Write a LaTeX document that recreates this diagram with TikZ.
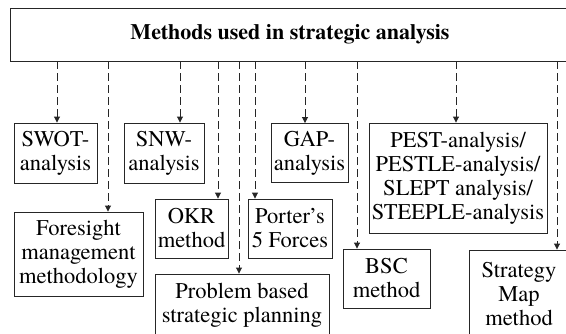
\documentclass[tikz,border=0pt]{standalone}
\usepackage{fontspec}
\setmainfont{TeX Gyre Termes}
\usepackage{tikz}
\usetikzlibrary{arrows.meta}
\tikzstyle{heading} = [rectangle, minimum width=560pt, minimum height=53pt, text centered, draw=black!85, line width=0.9pt, font=\fontsize{22}{24}\selectfont\bfseries]
\tikzstyle{method} = [rectangle, align=center, inner sep=0pt, draw=black!85, line width=0.9pt, fill=white]
\tikzstyle{arrow} = [line width=0.9pt, draw=black!85, dash pattern=on 8pt off 4pt, -{Triangle[length=6pt,width=6pt]}]

\begin{document}
\begin{tikzpicture}[x=1pt, y=-1pt]
\useasboundingbox (0,0) rectangle (566,333);
\clip (0,0) rectangle (566,333);
\fontsize{22.5}{24}\selectfont

\node (top) [heading] at (290,34.5) {Methods used in strategic analysis};

% first row
\node (swot) [method, minimum width=83pt, minimum height=60pt] at (55.5,153) {SWOT-\\analysis};
\node (snw) [method, minimum width=80pt, minimum height=60pt] at (164,153) {SNW-\\analysis};
\node (gap) [method, minimum width=77pt, minimum height=59pt] at (309.5,153) {GAP-\\analysis};
\node (pest) [method, minimum width=178pt, minimum height=110pt] at (458,178) {PEST-analysis/\\PESTLE-analysis/\\SLEPT analysis/\\STEEPLE-analysis};

% lower boxes
\node (fore) [method, minimum width=129pt, minimum height=84pt] at (78.5,254) {Foresight\\management\\methodology};
\node (okr) [method, minimum width=73pt, minimum height=59pt] at (191.5,228.5) {OKR\\method};
\node (porter) [method, minimum width=84pt, minimum height=59pt] at (290,228.5) {Porter’s\\5 Forces};
\node (prob) [method, minimum width=174pt, minimum height=62pt] at (242,305) {Problem based\\strategic planning};
\node (bsc) [method, minimum width=87pt, minimum height=59pt] at (386.5,278.5) {BSC\\method};
\node (smap) [method, minimum width=100pt, minimum height=88pt] at (519,294) {Strategy\\Map\\method};

% arrow ends
\coordinate (swotin) at ([xshift=1.5pt]swot.north);
\coordinate (forein) at ([xshift=29.5pt]fore.north);
\coordinate (snwin) at ([xshift=16pt]snw.north);
\coordinate (okrin) at ([xshift=26.5pt]okr.north);
\coordinate (probin) at ([xshift=-3pt]prob.north);
\coordinate (porterin) at ([xshift=-35pt]porter.north);
\coordinate (gapin) at ([xshift=-4.5pt]gap.north);
\coordinate (bscin) at ([xshift=-29.5pt]bsc.north);
\coordinate (pestin) at ([xshift=-2pt]pest.north);
\coordinate (smapin) at ([xshift=38pt]smap.north);

\draw [arrow] (top.south -| swotin) -- (swotin);
\draw [arrow] (top.south -| forein) -- (forein);
\draw [arrow] (top.south -| snwin) -- (snwin);
\draw [arrow] (top.south -| okrin) -- (okrin);
\draw [arrow] (top.south -| probin) -- (probin);
\draw [arrow] (top.south -| porterin) -- (porterin);
\draw [arrow] (top.south -| gapin) -- (gapin);
\draw [arrow] (top.south -| bscin) -- (bscin);
\draw [arrow] (top.south -| pestin) -- (pestin);
\draw [arrow] (top.south -| smapin) -- (smapin);

\end{tikzpicture}
\end{document}
